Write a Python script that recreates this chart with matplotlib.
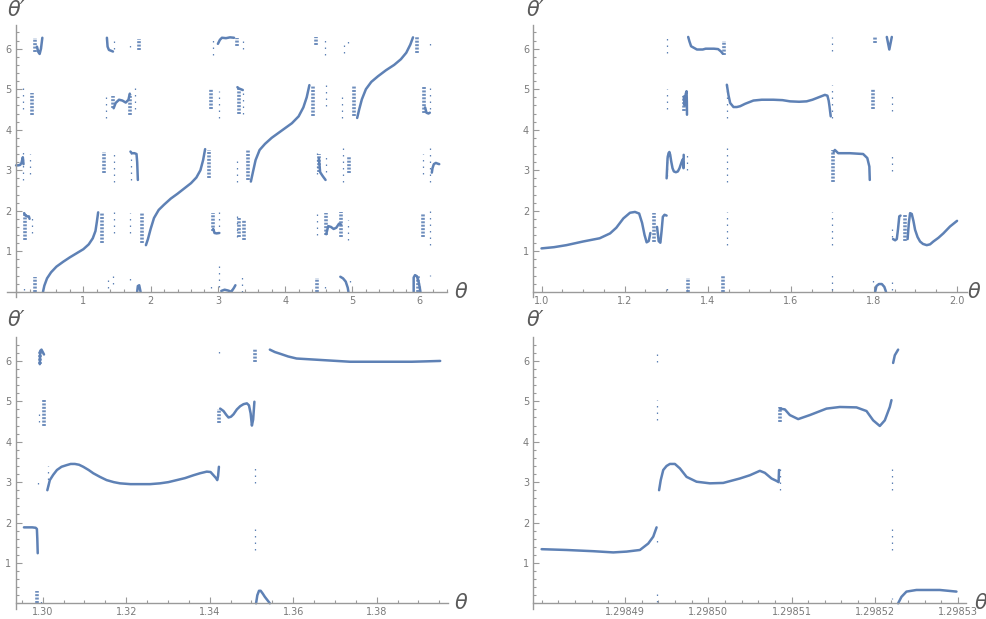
import numpy as np
import matplotlib
matplotlib.use("Agg")
import matplotlib.pyplot as plt
from matplotlib.ticker import FixedLocator, FormatStrFormatter

BLUE = '#5e81b5'
AXC = '#9a9a9a'

# ---- panel 1: theta in [0, 2pi] ----
p1_lines = [
    ([0.40, 0.42, 0.46, 0.52, 0.60, 0.70, 0.80, 0.90, 1.00, 1.08, 1.14, 1.18, 1.20, 1.22],
     [0.00, 0.15, 0.33, 0.48, 0.62, 0.74, 0.85, 0.95, 1.05, 1.17, 1.32, 1.50, 1.72, 1.96]),
    ([1.93, 1.96, 2.00, 2.05, 2.12, 2.20, 2.30, 2.40, 2.50, 2.60, 2.68, 2.74, 2.78, 2.81],
     [1.15, 1.30, 1.55, 1.82, 2.02, 2.15, 2.30, 2.42, 2.55, 2.68, 2.82, 3.00, 3.25, 3.52]),
    ([3.49, 3.52, 3.56, 3.62, 3.70, 3.80, 3.90, 4.00, 4.10, 4.20, 4.27, 4.32, 4.36],
     [2.72, 2.95, 3.25, 3.50, 3.65, 3.80, 3.92, 4.04, 4.16, 4.33, 4.55, 4.80, 5.10]),
    ([5.07, 5.10, 5.14, 5.20, 5.28, 5.38, 5.50, 5.62, 5.72, 5.80, 5.86, 5.90],
     [4.29, 4.50, 4.75, 5.00, 5.18, 5.32, 5.47, 5.60, 5.74, 5.90, 6.10, 6.28]),
    ([0.00, 0.03, 0.06, 0.08, 0.10, 0.11], [3.12, 3.12, 3.13, 3.18, 3.32, 3.15]),
    ([0.12, 0.14, 0.17, 0.19, 0.20], [1.94, 1.88, 1.86, 1.86, 1.80]),
    ([0.31, 0.33, 0.35, 0.37, 0.39], [6.05, 5.92, 5.87, 6.00, 6.27]),
    ([1.45, 1.48, 1.53, 1.58, 1.63, 1.67, 1.69], [4.53, 4.66, 4.74, 4.72, 4.67, 4.74, 4.89]),
    ([1.70, 1.72, 1.76, 1.79, 1.80, 1.81], [3.46, 3.42, 3.42, 3.40, 3.20, 2.76]),
    ([1.35, 1.36, 1.38, 1.41, 1.44], [6.27, 6.05, 5.97, 5.95, 5.93]),
    ([3.00, 3.03, 3.06, 3.12, 3.18, 3.24], [6.12, 6.22, 6.27, 6.26, 6.28, 6.27]),
    ([1.80, 1.81, 1.83, 1.85], [0.00, 0.14, 0.16, 0.00]),
    ([3.05, 3.10, 3.15, 3.20, 3.24, 3.26], [0.02, 0.05, 0.03, 0.00, 0.10, 0.16]),
    ([3.29, 3.31, 3.34, 3.37], [5.05, 5.02, 5.00, 4.98]),
    ([2.93, 2.95, 2.98, 3.02], [1.55, 1.45, 1.44, 1.45]),
    ([4.50, 4.52, 4.56, 4.60], [3.30, 2.95, 2.85, 2.76]),
    ([4.61, 4.64, 4.68, 4.72, 4.76, 4.80, 4.83], [1.42, 1.62, 1.60, 1.55, 1.58, 1.68, 1.66]),
    ([4.82, 4.86, 4.90, 4.93, 4.94], [0.37, 0.33, 0.25, 0.10, 0.00]),
    ([6.08, 6.10, 6.13, 6.15], [4.55, 4.42, 4.40, 4.42]),
    ([6.18, 6.19, 6.21, 6.24, 6.27, 6.29], [2.94, 3.05, 3.15, 3.18, 3.16, 3.15]),
    ([5.91, 5.91, 5.93, 5.96, 5.99, 6.01], [0.00, 0.35, 0.41, 0.38, 0.20, 0.00]),
]
# dense bands: (x, y from, y to)
p1_bands = [
    (0.28, 0.00, 0.37), (0.24, 4.37, 4.90), (0.28, 5.93, 6.27), (0.13, 1.28, 1.94),
    (1.27, 1.20, 1.94), (1.31, 2.93, 3.46), (1.435, 4.53, 4.82), (1.69, 4.37, 4.87),
    (1.82, 5.97, 6.24), (1.87, 1.20, 1.94), (2.865, 2.80, 3.50), (2.90, 4.50, 5.00),
    (2.92, 1.50, 1.94), (3.31, 4.40, 5.05), (3.31, 1.36, 1.81), (3.39, 1.28, 1.77),
    (3.45, 2.77, 3.50), (4.42, 4.35, 5.07), (4.465, 6.10, 6.30), (4.47, 0.00, 0.33),
    (4.505, 2.95, 3.40), (4.60, 1.40, 1.94), (4.835, 1.36, 1.98), (4.955, 2.93, 3.34),
    (5.02, 4.35, 5.07), (5.96, 5.90, 6.28), (5.98, 0.00, 0.40), (6.07, 4.41, 5.07),
    (6.045, 1.36, 1.94), (3.29, 6.07, 6.27),
]
# sparse dot columns
p1_dots = [
    (0.11, 4.50, 5.10), (0.11, 2.75, 3.55), (0.21, 2.90, 3.40), (0.24, 1.45, 1.85), (0.12, 0.05, 0.15),
    (1.34, 4.30, 4.90), (1.45, 2.72, 3.46), (1.45, 1.44, 1.98), (1.45, 6.00, 6.20), (1.37, 0.10, 0.36),
    (1.44, 0.20, 0.40), (1.70, 6.05, 6.15), (1.77, 4.50, 5.10), (1.71, 2.76, 3.45), (1.70, 1.44, 1.94),
    (1.70, 0.30, 0.45), (2.92, 5.85, 6.27), (3.02, 4.30, 4.95), (3.02, 1.44, 2.00), (3.02, 0.12, 0.66),
    (2.90, 0.10, 0.25), (3.28, 2.72, 3.25), (3.28, 1.36, 1.98), (3.37, 6.00, 6.22), (3.38, 4.40, 5.00),
    (3.36, 0.00, 0.40), (4.48, 2.90, 3.55), (4.48, 1.40, 1.98), (4.59, 5.85, 6.25), (4.60, 4.58, 5.10),
    (4.60, 2.95, 3.40), (4.59, 0.10, 0.25), (4.85, 4.30, 4.80), (4.87, 5.90, 6.14), (4.94, 6.14, 6.27),
    (4.86, 2.72, 3.55), (4.94, 1.28, 1.77), (4.96, 0.25, 0.40), (6.05, 2.90, 3.40), (6.15, 4.50, 5.15),
    (6.15, 2.72, 3.60), (6.15, 1.15, 2.00), (6.15, 6.10, 6.20), (6.15, 0.38, 0.42),
]

# ---- panel 2: theta in [1, 2] ----
p2_lines = [
    ([1.00, 1.03, 1.06, 1.10, 1.14, 1.165, 1.18, 1.197, 1.213, 1.225, 1.235, 1.242, 1.248, 1.253, 1.258, 1.262],
     [1.07, 1.10, 1.15, 1.24, 1.32, 1.44, 1.58, 1.81, 1.95, 1.97, 1.93, 1.70, 1.40, 1.22, 1.25, 1.45]),
    ([1.278, 1.282, 1.286, 1.289, 1.292, 1.296, 1.301], [1.60, 1.25, 1.21, 1.50, 1.85, 1.90, 1.88]),
    ([1.3011, 1.3034, 1.3057, 1.3077, 1.3097, 1.3121, 1.3153, 1.3185, 1.3233, 1.3281, 1.3321, 1.3361,
      1.3393, 1.3409, 1.3418, 1.3422],
     [2.80, 3.30, 3.42, 3.45, 3.38, 3.22, 3.05, 2.97, 2.95, 2.97, 3.05, 3.17, 3.26, 3.17, 3.05, 3.38]),
    ([1.3425, 1.3445, 1.347, 1.349, 1.3498, 1.3501], [4.82, 4.60, 4.88, 4.95, 4.70, 4.37]),
    ([1.353, 1.356, 1.360, 1.367, 1.374, 1.381, 1.388, 1.395, 1.405, 1.415, 1.425, 1.432, 1.436],
     [6.29, 6.18, 6.06, 6.02, 5.98, 5.98, 5.98, 6.00, 6.00, 6.00, 5.99, 5.93, 5.88]),
    ([1.446, 1.450, 1.454, 1.462, 1.470, 1.478, 1.49, 1.51, 1.53, 1.558, 1.58, 1.598, 1.62, 1.638,
      1.652, 1.662, 1.672, 1.682, 1.688, 1.691, 1.693, 1.696],
     [5.11, 4.85, 4.66, 4.56, 4.56, 4.58, 4.64, 4.72, 4.74, 4.74, 4.73, 4.70, 4.69, 4.70,
      4.74, 4.78, 4.82, 4.86, 4.84, 4.72, 4.58, 4.33]),
    ([1.703, 1.706, 1.714, 1.742, 1.774, 1.784, 1.789, 1.790], [3.45, 3.50, 3.42, 3.42, 3.40, 3.30, 3.09, 2.76]),
    ([1.831, 1.837, 1.843], [6.29, 5.98, 6.29]),
    ([1.803, 1.806, 1.812, 1.819, 1.825, 1.829], [0.00, 0.14, 0.19, 0.19, 0.12, 0.00]),
    ([1.846, 1.851, 1.855, 1.858, 1.861, 1.864], [1.30, 1.27, 1.30, 1.55, 1.86, 1.88]),
    ([1.881, 1.884, 1.887, 1.891, 1.895, 1.899, 1.905, 1.911, 1.918, 1.927, 1.935, 1.943, 1.955,
      1.967, 1.983, 2.000],
     [1.30, 1.70, 1.94, 1.92, 1.75, 1.53, 1.35, 1.24, 1.18, 1.15, 1.17, 1.24, 1.33, 1.44, 1.61, 1.75]),
]
p2_bands = [
    (1.270, 1.22, 1.94), (1.3422, 4.46, 4.82), (1.440, 5.85, 6.18), (1.353, 0.00, 0.33),
    (1.436, 0.00, 0.41), (1.701, 2.72, 3.50), (1.803, 6.14, 6.30), (1.797, 4.50, 5.00),
    (1.874, 1.25, 1.92),
]
p2_dots = [
    (1.301, 4.50, 5.00), (1.301, 5.90, 6.27), (1.301, 0.05, 0.15), (1.301, 2.85, 3.45),
    (1.351, 3.00, 3.38), (1.446, 4.29, 5.11), (1.446, 2.72, 3.55), (1.446, 1.15, 1.98),
    (1.698, 5.95, 6.30), (1.700, 4.30, 5.10), (1.698, 1.15, 1.98), (1.698, 0.05, 0.45),
    (1.843, 4.45, 4.86), (1.843, 2.97, 3.46), (1.843, 0.04, 0.33), (1.797, 0.25, 0.33),
    (1.843, 1.35, 1.55),
]

# ---- panel 3: theta in [1.295, 1.395] ----
p3_lines = [
    ([1.2955, 1.2965, 1.2975, 1.2983, 1.2986, 1.2987, 1.2988], [1.88, 1.88, 1.88, 1.87, 1.84, 1.60, 1.24]),
    ([1.2993, 1.2994, 1.2997, 1.3001, 1.3003], [5.92, 6.25, 6.28, 6.20, 6.16]),
    ([1.3011, 1.3017, 1.3025, 1.3034, 1.3045, 1.3057, 1.3067, 1.3077, 1.3087, 1.3097, 1.3110, 1.3121,
      1.3137, 1.3153, 1.3170, 1.3185, 1.3210, 1.3233, 1.3257, 1.3281, 1.3301, 1.3321, 1.3341, 1.3361,
      1.3377, 1.3393, 1.3402, 1.3409, 1.3415, 1.3418, 1.3420, 1.3422],
     [2.80, 3.05, 3.18, 3.30, 3.38, 3.42, 3.45, 3.45, 3.43, 3.38, 3.30, 3.22, 3.13, 3.05, 3.00, 2.97,
      2.95, 2.95, 2.95, 2.97, 3.00, 3.05, 3.10, 3.17, 3.22, 3.26, 3.25, 3.17, 3.10, 3.05, 3.15, 3.38]),
    ([1.3425, 1.3433, 1.3440, 1.3445, 1.3451, 1.3457, 1.3465, 1.3473, 1.3481, 1.3489, 1.3494, 1.3498,
      1.3501, 1.3504, 1.3507],
     [4.82, 4.76, 4.66, 4.60, 4.62, 4.68, 4.80, 4.88, 4.93, 4.95, 4.90, 4.70, 4.40, 4.55, 4.99]),
    ([1.3544, 1.3556, 1.3568, 1.3588, 1.3608, 1.3640, 1.3672, 1.3704, 1.3736, 1.3772, 1.3808, 1.3846,
      1.3884, 1.3920, 1.3952],
     [6.28, 6.22, 6.18, 6.11, 6.06, 6.04, 6.02, 6.00, 5.98, 5.98, 5.98, 5.98, 5.98, 5.99, 6.00]),
    ([1.3511, 1.3514, 1.3518, 1.3522, 1.3527, 1.3532, 1.3538, 1.3544], [0.00, 0.20, 0.31, 0.31, 0.24, 0.16, 0.08, 0.00]),
]
p3_bands = [(1.2987, 0.00, 0.30), (1.2993, 5.92, 6.25), (1.3003, 4.40, 5.05), (1.3422, 4.46, 4.82),
            (1.3508, 5.98, 6.30)]
p3_dots = [(1.2995, 0.00, 0.12), (1.2990, 4.50, 4.70), (1.2988, 2.95, 3.00), (1.3012, 2.90, 3.40),
           (1.3422, 6.20, 6.25), (1.3509, 2.98, 3.38), (1.3509, 1.32, 1.90)]

# ---- panel 4: theta in [1.29848, 1.29853] ----
p4_lines = [
    ([1.2984800, 1.2984830, 1.2984862, 1.2984886, 1.2984902, 1.2984918, 1.2984928, 1.2984934, 1.2984938],
     [1.34, 1.32, 1.29, 1.26, 1.28, 1.32, 1.48, 1.65, 1.88]),
    ([1.2984941, 1.2984943, 1.2984946, 1.2984950, 1.2984954, 1.2984960, 1.2984966, 1.2984974, 1.2984986,
      1.2985002, 1.2985018, 1.2985038, 1.2985050, 1.2985062, 1.2985068, 1.2985076, 1.2985082, 1.29850845,
      1.2985085],
     [2.80, 3.05, 3.30, 3.40, 3.45, 3.45, 3.34, 3.13, 3.01, 2.97, 2.98, 3.09, 3.17, 3.28, 3.23, 3.09,
      3.03, 3.00, 3.30]),
    ([1.2985086, 1.2985092, 1.2985098, 1.2985108, 1.2985122, 1.2985142, 1.2985158, 1.2985178, 1.2985190,
      1.2985198, 1.2985206, 1.2985212, 1.2985218, 1.2985220],
     [4.82, 4.80, 4.66, 4.56, 4.66, 4.82, 4.86, 4.85, 4.76, 4.53, 4.39, 4.53, 4.86, 5.03]),
    ([1.2985222, 1.2985224, 1.2985228], [5.95, 6.14, 6.28]),
    ([1.2985228, 1.2985232, 1.2985238, 1.2985250, 1.2985278, 1.2985298], [0.00, 0.16, 0.29, 0.33, 0.33, 0.29]),
]
p4_bands = [(1.2985086, 4.50, 4.85)]
p4_dots = [(1.2984939, 5.98, 6.27), (1.2984939, 4.53, 5.03), (1.2984939, 1.52, 1.58), (1.2984939, 0.04, 0.29),
           (1.2985086, 2.80, 3.40), (1.2985221, 2.80, 3.38), (1.2985221, 1.32, 1.90), (1.2985221, 0.10, 0.14)]

W, H = 987, 619
fig = plt.figure(figsize=(W / 100, H / 100), dpi=100)


def panel(box, xlim, ylim, lines, bands, dots, xmaj, xmin_step, fmt, y_at_zero=False):
    x0, x1, y0, y1 = box
    ax = fig.add_axes([x0 / W, 1 - y1 / H, (x1 - x0) / W, (y1 - y0) / H])
    for xs, ys in lines:
        ax.plot(xs, ys, color=BLUE, lw=1.8, solid_capstyle='round', solid_joinstyle='round')
    for x, a, b in bands:
        ax.plot([x, x], [a, b], color=BLUE, lw=2.6, ls=(0, (0.55, 0.4)), alpha=0.9)
    for x, a, b in dots:
        ax.plot([x, x], [a, b], color=BLUE, lw=0.9, ls=(0, (1.2, 4)))
    ax.set_xlim(*xlim)
    ax.set_ylim(*ylim)
    for s in ['top', 'right']:
        ax.spines[s].set_visible(False)
    ax.spines['bottom'].set_position(('data', 0))
    if y_at_zero:
        ax.spines['left'].set_position(('data', 0))
    for s in ['bottom', 'left']:
        ax.spines[s].set_color(AXC)
        ax.spines[s].set_linewidth(1.0)
    ax.xaxis.set_major_locator(FixedLocator(xmaj))
    ax.xaxis.set_major_formatter(FormatStrFormatter(fmt))
    ax.xaxis.set_minor_locator(FixedLocator(np.arange(xlim[0] - xlim[0] % xmin_step, xlim[1], xmin_step)))
    ax.yaxis.set_major_locator(FixedLocator([1, 2, 3, 4, 5, 6]))
    ax.yaxis.set_major_formatter(FormatStrFormatter('%d'))
    ax.yaxis.set_minor_locator(FixedLocator(np.arange(0, 6.6, 0.2)))
    ax.tick_params(which='both', direction='in', color=AXC, width=0.8, labelsize=7, labelcolor='#7a7a7a', pad=3)
    ax.tick_params(which='major', length=4)
    ax.tick_params(which='minor', length=2.2)
    ax.patch.set_alpha(0)
    return ax


panel((7.35, 447.3, 25, 297), (-0.13, 6.41), (-0.13, 6.585), p1_lines, p1_bands, p1_dots,
      [1, 2, 3, 4, 5, 6], 0.2, '%d', y_at_zero=True)
panel((533.2, 966.6, 25, 297), (0.98, 2.023), (-0.13, 6.585), p2_lines, p2_bands, p2_dots,
      [1.0, 1.2, 1.4, 1.6, 1.8, 2.0], 0.05, '%.1f')
panel((15.6, 447.7, 336.7, 608.6), (1.2935, 1.397), (-0.131, 6.6), p3_lines, p3_bands, p3_dots,
      [1.30, 1.32, 1.34, 1.36, 1.38], 0.005, '%.2f')
panel((533.3, 965.6, 336.7, 608.6), (1.298479, 1.2985309), (-0.131, 6.6), p4_lines, p4_bands, p4_dots,
      [1.29849, 1.29850, 1.29851, 1.29852, 1.29853], 0.000002, '%.5f')

lab = dict(fontsize=15, color='#5a5a5a', style='italic')
for px, py in [(455, 291.7), (968, 291.7), (455, 603.3), (975, 603.3)]:
    fig.text(px / W, 1 - py / H, 'θ', ha='left', va='center', **lab)
for px, py in [(8, 10), (527, 10), (8, 320), (527, 320)]:
    fig.text(px / W, 1 - py / H, 'θ′', ha='left', va='center', **lab)

fig.savefig('out.png', dpi=100)
